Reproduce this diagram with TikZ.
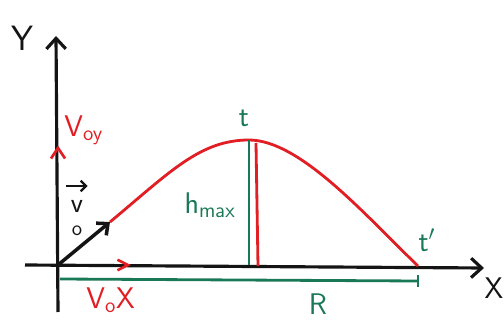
\documentclass[tikz,border=0pt]{standalone}
\usepackage{tikz}
\usetikzlibrary{arrows.meta}
\definecolor{penred}{RGB}{225,30,35}
\definecolor{pengreen}{RGB}{25,120,85}
\definecolor{penblack}{RGB}{20,20,20}
\tikzset{
  axis/.style={penblack,line width=1.8pt,-{Straight Barb[length=6pt,width=11pt,line width=1.8pt]}},
  redline/.style={penred,line width=1.6pt},
  greenline/.style={pengreen,line width=1.6pt},
  redlbl/.style={text=penred,font=\sffamily\fontsize{17}{17}\selectfont,inner sep=0pt},
  greenlbl/.style={text=pengreen,font=\sffamily\fontsize{17}{17}\selectfont,inner sep=0pt},
  blacklbl/.style={text=penblack,font=\sffamily\fontsize{20}{20}\selectfont,inner sep=0pt}
}
\begin{document}
\begin{tikzpicture}[x=0.02cm,y=-0.02cm]
  \useasboundingbox (0,0) rectangle (504,331);
  % axes
  \coordinate (O) at (58,265);
  \coordinate (ybot) at (58,312);
  \coordinate (ytop) at (56,36);
  \coordinate (xleft) at (25,265);
  \coordinate (xright) at (484,268);
  \draw[axis] (ybot) -- (ytop);
  \draw[axis] (xleft) -- (xright);
  \node[blacklbl] (ylbl) at (22,38) {Y};
  \node[blacklbl,font=\sffamily\fontsize{17}{17}\selectfont] (xlbl) at (494,288) {X};
  % trajectory
  \coordinate (tip) at (110,222);
  \coordinate (top) at (249,140);
  \coordinate (land) at (418,266);
  \draw[redline] (tip) .. controls (170,172) and (200,140) .. (top)
    .. controls (300,140) and (365,215) .. (land);
  \draw[penblack,line width=2pt,-{Straight Barb[length=5pt,width=9pt,line width=2pt]}] (O) -- (tip);
  % v0 label
  \node[blacklbl,align=center,font=\sffamily\fontsize{16}{13}\selectfont] (v0) at (77,218)
    {v\\{\fontsize{12}{12}\selectfont o}};
  \draw[penblack,line width=1.3pt,-{Straight Barb[length=3pt,width=6pt,line width=1.3pt]}] ([xshift=-6pt,yshift=8pt]v0.north) -- ([xshift=6pt,yshift=8pt]v0.north);
  % components
  \coordinate (vyarr) at (58,148);
  \draw[penred,line width=1.5pt] ([xshift=-4pt,yshift=-6pt]vyarr) -- (vyarr) -- ([xshift=4pt,yshift=-6pt]vyarr);
  \node[redlbl,anchor=west] (voy) at (64,130) {V$_{\mathsf{oy}}$};
  \coordinate (vxarr) at (128,265);
  \draw[penred,line width=1.5pt] ([xshift=-6pt,yshift=3pt]vxarr) -- (vxarr) -- ([xshift=-6pt,yshift=-3pt]vxarr);
  \node[redlbl,anchor=west] (vox) at (86,300) {V$_{\mathsf{o}}$X};
  % maximum height
  \coordinate (hbot) at (249,265);
  \draw[greenline] (top) -- (hbot);
  \draw[redline] (256,143) -- (258,266);
  \node[greenlbl] (t) at (244,118) {t};
  \node[greenlbl,anchor=east] (hmax) at (236,205) {h$_{\mathsf{max}}$};
  \node[greenlbl] (tprime) at (427,240) {t$'$};
  % range
  \coordinate (rl) at (60,279);
  \coordinate (rr) at (418,281);
  \draw[greenline] (rl) -- (rr);
  \draw[greenline] (rr) ++(0,-6) -- ++(0,12);
  \node[greenlbl] (R) at (318,304) {R};
\end{tikzpicture}
\end{document}
